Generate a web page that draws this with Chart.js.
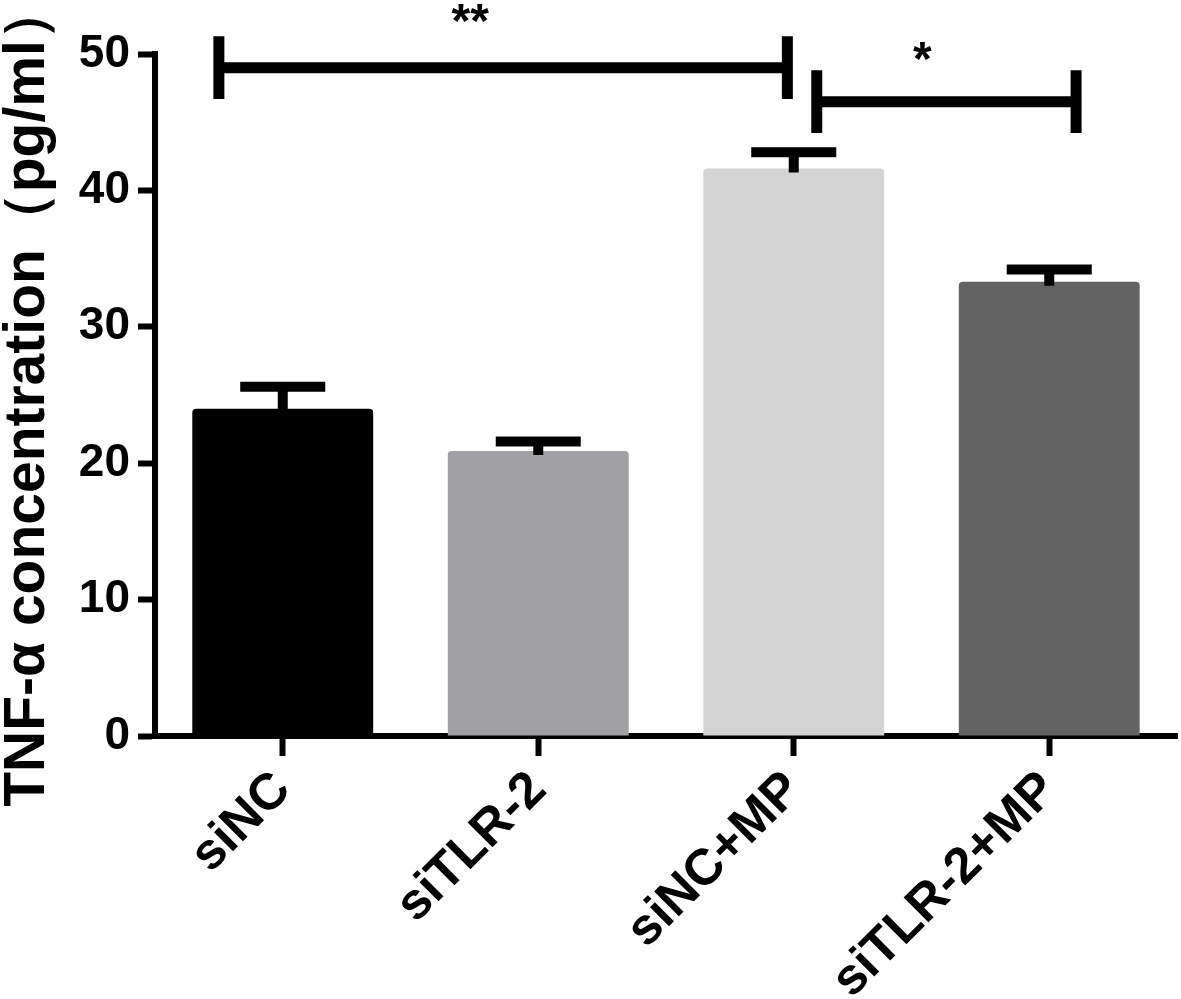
<!DOCTYPE html>
<html>
<head>
<meta charset="utf-8">
<script src="https://cdn.jsdelivr.net/npm/chart.js@4/dist/chart.umd.min.js"></script>
<style>
  html, body { margin: 0; padding: 0; background: #fff; }
  #wrap { width: 1181px; height: 999px; position: relative; }
</style>
</head>
<body>
<div id="wrap"><canvas id="tnfChart"></canvas></div>
<script>
// Datos del gráfico
const groups = ['siNC', 'siTLR-2', 'siNC+MP', 'siTLR-2+MP'];
const meanValues = [24.0, 20.9, 41.6, 33.3];
const semValues = [1.6, 0.7, 1.2, 0.9];
const barColors = ['#000000', '#a1a1a5', '#d4d4d4', '#626262'];
const yTicks = [0, 10, 20, 30, 40, 50];

// Corchetes de significancia (posiciones en unidades de categoría / valor)
const sigFrom = [-0.25, 2.09];
const sigTo = [1.975, 3.105];
const sigY = [49.0, 46.5];
const sigTick = [2.3, 2.3];
const sigLabel = ['**', '*'];
const sigLabelX = [0.734, 2.503];
const sigLabelY = [52.2, 49.4];

const FONT = "'Liberation Sans', Arial, sans-serif";

const errorBarsPlugin = {
  id: 'errorBars',
  afterDatasetsDraw(chart) {
    const ctx = chart.ctx;
    const meta = chart.getDatasetMeta(0);
    const y = chart.scales.y;
    ctx.save();
    ctx.strokeStyle = '#000';
    ctx.lineWidth = 10;
    ctx.lineCap = 'butt';
    meta.data.forEach((bar, i) => {
      const top = y.getPixelForValue(meanValues[i] + semValues[i]);
      const half = bar.width * 0.235;
      ctx.beginPath();
      ctx.moveTo(bar.x, bar.y + 4);
      ctx.lineTo(bar.x, top);
      ctx.moveTo(bar.x - half, top);
      ctx.lineTo(bar.x + half, top);
      ctx.stroke();
    });
    ctx.restore();
  }
};

const bracketsPlugin = {
  id: 'brackets',
  afterDraw(chart) {
    const ctx = chart.ctx;
    const x = chart.scales.x;
    const y = chart.scales.y;
    ctx.save();
    ctx.strokeStyle = '#000';
    ctx.fillStyle = '#000';
    ctx.lineWidth = 11;
    for (let i = 0; i < sigFrom.length; i++) {
      const x1 = x.getPixelForValue(sigFrom[i]);
      const x2 = x.getPixelForValue(sigTo[i]);
      const yy = y.getPixelForValue(sigY[i]);
      const yt = y.getPixelForValue(sigY[i] + sigTick[i]);
      const yb = y.getPixelForValue(sigY[i] - sigTick[i]);
      ctx.beginPath();
      ctx.moveTo(x1, yy); ctx.lineTo(x2, yy);
      ctx.moveTo(x1, yt); ctx.lineTo(x1, yb);
      ctx.moveTo(x2, yt); ctx.lineTo(x2, yb);
      ctx.stroke();
      ctx.font = 'bold 48px ' + FONT;
      ctx.textAlign = 'center';
      ctx.textBaseline = 'middle';
      ctx.fillText(sigLabel[i], x.getPixelForValue(sigLabelX[i]), y.getPixelForValue(sigLabelY[i]));
    }
    ctx.restore();
  }
};

document.addEventListener('DOMContentLoaded', function() {
  const ctx = document.getElementById('tnfChart').getContext('2d');
  new Chart(ctx, {
    type: 'bar',
    data: {
      labels: groups,
      datasets: [{
        data: meanValues,
        backgroundColor: barColors,
        borderWidth: 0,
        borderRadius: 4,
        borderSkipped: 'bottom',
        barPercentage: 0.708,
        categoryPercentage: 1.0
      }]
    },
    options: {
      responsive: true,
      maintainAspectRatio: false,
      animation: false,
      devicePixelRatio: 1,
      layout: { padding: { top: 54, right: 4, left: 0, bottom: 0 } },
      plugins: {
        legend: { display: false },
        tooltip: { enabled: false }
      },
      scales: {
        x: {
          offset: true,
          grid: {
            display: true,
            drawOnChartArea: false,
            drawTicks: true,
            offset: false,
            tickLength: 20,
            tickWidth: 6,
            tickColor: '#000'
          },
          border: { display: true, width: 6, color: '#000' },
          ticks: {
            color: '#000',
            font: { family: FONT, size: 51, weight: 'bold' },
            maxRotation: 45,
            minRotation: 45,
            padding: 4,
            autoSkip: false
          },
          afterFit(scale) { scale.height = 263; }
        },
        y: {
          min: 0,
          max: 50,
          afterBuildTicks(scale) { scale.ticks = yTicks.map(v => ({ value: v })); },
          grid: {
            display: true,
            drawOnChartArea: false,
            drawTicks: true,
            tickLength: 17,
            tickWidth: 6,
            tickColor: '#000'
          },
          border: { display: true, width: 6, color: '#000' },
          ticks: {
            color: '#000',
            font: { family: FONT, size: 46, weight: 'bold' },
            padding: 8
          },
          title: {
            display: true,
            text: 'TNF-α concentration（pg/ml）',
            color: '#000',
            font: { family: FONT, size: 57, weight: 'bold', lineHeight: 1.0 },
            padding: { top: 0, bottom: 0 }
          },
          afterFit(scale) { scale.width = 155; }
        }
      }
    },
    plugins: [errorBarsPlugin, bracketsPlugin]
  });
});
</script>
</body>
</html>
